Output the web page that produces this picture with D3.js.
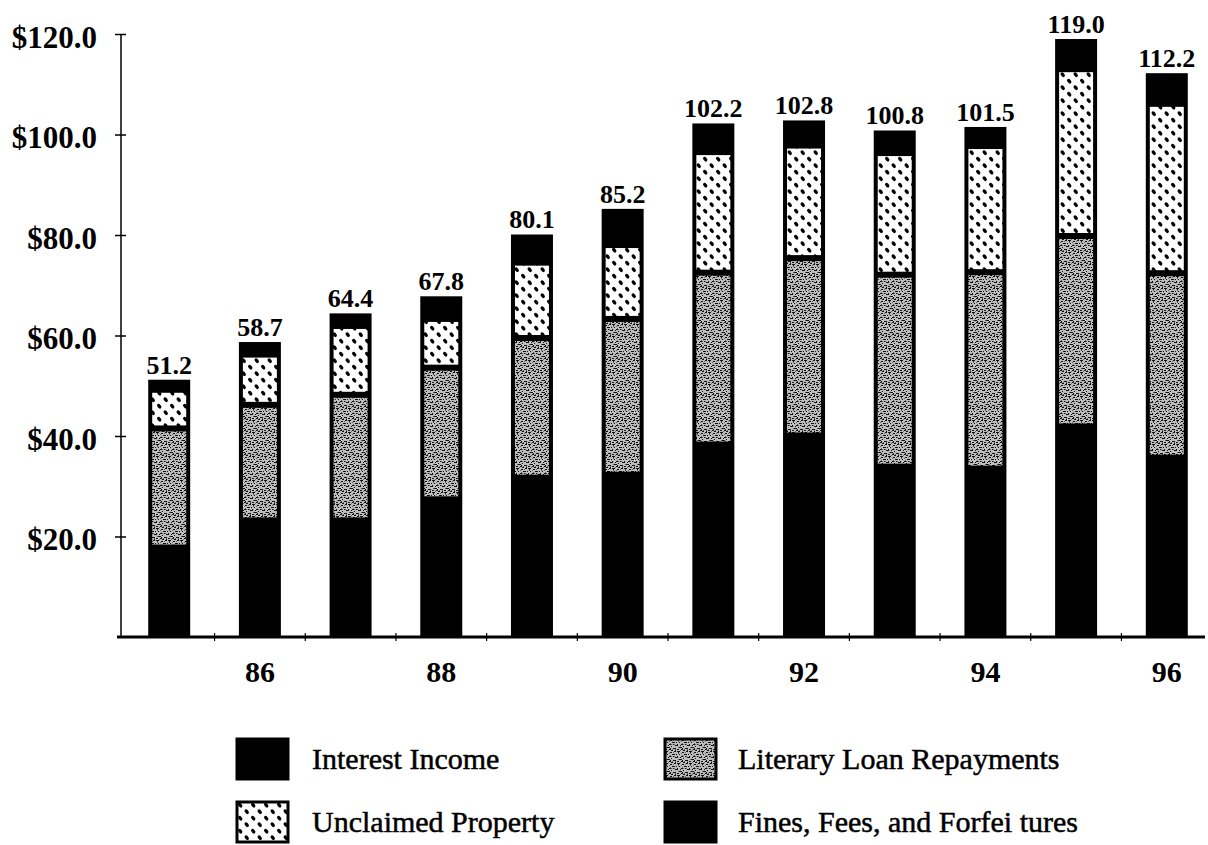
<!DOCTYPE html>
<html>
<head>
<meta charset="utf-8">
<script src="https://cdn.jsdelivr.net/npm/d3@7"></script>
<style>
  body { margin: 0; background: #fff; }
  text { font-family: "Liberation Serif", "Times New Roman", serif; fill: #000; }
</style>
</head>
<body>
<div id="chart"></div>
<script>
// datos (millones de dolares)
const years = [85, 86, 87, 88, 89, 90, 91, 92, 93, 94, 95, 96];
const interestIncome = [17.8, 23.2, 23.2, 27.4, 31.7, 32.3, 38.3, 40.1, 33.9, 33.5, 41.9, 35.7];
const literaryLoan = [23.7, 23.0, 25.0, 26.2, 27.8, 31.0, 34.2, 35.3, 38.2, 39.1, 37.9, 36.7];
const unclaimedProperty = [7.7, 10.0, 13.7, 9.7, 15.0, 14.7, 24.0, 22.4, 24.2, 25.1, 33.2, 33.7];
const finesFees = [2.0, 2.5, 2.5, 4.5, 5.6, 7.2, 5.7, 5.0, 4.5, 3.8, 6.0, 6.1];
const totalLabels = ['51.2', '58.7', '64.4', '67.8', '80.1', '85.2', '102.2', '102.8', '100.8', '101.5', '119.0', '112.2'];
const yTicks = [20, 40, 60, 80, 100, 120];
const xTickLabels = [86, 88, 90, 92, 94, 96];
const seriesKeys = ['interest', 'literary', 'unclaimed', 'fines'];
const seriesNames = ['Interest Income', 'Literary Loan Repayments', 'Unclaimed Property', 'Fines, Fees, and Forfei tures'];

const width = 1208;
const height = 845;

const svg = d3.select('#chart')
  .append('svg')
  .attr('width', width)
  .attr('height', height);

// patrones de relleno tipo fotocopia
const defs = svg.append('defs');

const pLit = defs.append('pattern')
  .attr('id', 'pat-literary')
  .attr('patternUnits', 'userSpaceOnUse')
  .attr('width', 12).attr('height', 12);
pLit.append('rect').attr('width', 12).attr('height', 12).attr('fill', '#bdbdbd');
[[0,0,3,1],[5,1,2,1],[9,0,2,1],[2,3,1,1],[7,3,3,1],[0,5,1,2],[4,5,3,1],[10,6,2,1],
 [2,8,3,1],[6,7,1,1],[8,9,3,1],[0,10,2,1],[4,10,2,1],[6,11,2,1],[11,3,1,1],[3,6,1,1],
 [1,1,1,1],[8,5,1,1],[5,9,1,1],[10,11,1,1]]
  .forEach(d => pLit.append('rect')
    .attr('x', d[0]).attr('y', d[1]).attr('width', d[2]).attr('height', d[3])
    .attr('fill', '#111'));
[[1,2],[8,1],[3,11],[10,10],[5,4],[9,5],[1,8],[7,10],[4,2],[6,5]]
  .forEach(d => pLit.append('rect')
    .attr('x', d[0]).attr('y', d[1]).attr('width', 1).attr('height', 1)
    .attr('fill', '#666'));

const pUnc = defs.append('pattern')
  .attr('id', 'pat-unclaimed')
  .attr('patternUnits', 'userSpaceOnUse')
  .attr('width', 13).attr('height', 13);
pUnc.append('rect').attr('width', 13).attr('height', 13).attr('fill', '#fff');
[[3.2, 3.2], [9.7, 9.7]].forEach(d => pUnc.append('ellipse')
  .attr('cx', d[0]).attr('cy', d[1]).attr('rx', 2.7).attr('ry', 1.7)
  .attr('transform', `rotate(50 ${d[0]} ${d[1]})`)
  .attr('fill', '#000'));

const fills = {
  interest: '#000',
  literary: 'url(#pat-literary)',
  unclaimed: 'url(#pat-unclaimed)',
  fines: '#000'
};

// tabla para d3.stack
const table = years.map((yr, i) => ({
  year: yr,
  interest: interestIncome[i],
  literary: literaryLoan[i],
  unclaimed: unclaimedProperty[i],
  fines: finesFees[i]
}));
const stacked = d3.stack().keys(seriesKeys)(table);

const axisLeftX = 121;

const x = d3.scaleBand()
  .domain(years)
  .range([axisLeftX, 1215])
  .paddingInner(0.537)
  .paddingOuter(0.3);

const y = d3.scaleLinear()
  .domain([0, 120])
  .range([637, 34]);

// barras: fondo negro con el contorno, y luego cada segmento
const bars = svg.append('g');
bars.selectAll('rect.outline')
  .data(table)
  .join('rect')
  .attr('class', 'outline')
  .attr('x', d => x(d.year))
  .attr('width', x.bandwidth())
  .attr('y', (d, i) => y(stacked[3][i][1]))
  .attr('height', (d, i) => y(0) - y(stacked[3][i][1]))
  .attr('fill', '#000');

const inset = 4;
bars.selectAll('g.layer')
  .data(stacked.filter(s => s.key === 'literary' || s.key === 'unclaimed'))
  .join('g')
  .attr('class', 'layer')
  .attr('fill', s => fills[s.key])
  .selectAll('rect')
  .data(s => s)
  .join('rect')
  .attr('x', d => x(d.data.year) + inset)
  .attr('width', x.bandwidth() - inset * 2)
  .attr('y', d => y(d[1]) + 3)
  .attr('height', d => y(d[0]) - y(d[1]) - 6);

// etiquetas de totales
svg.append('g')
  .selectAll('text')
  .data(table)
  .join('text')
  .attr('x', d => x(d.year) + x.bandwidth() / 2)
  .attr('y', (d, i) => y(stacked[3][i][1]) - 6)
  .attr('text-anchor', 'middle')
  .attr('font-size', '26px')
  .attr('font-weight', 'bold')
  .text((d, i) => totalLabels[i]);

// eje Y
function ejeY(g) {
  g.attr('transform', `translate(${axisLeftX},0)`)
    .call(d3.axisLeft(y)
      .tickValues(yTicks)
      .tickSize(6)
      .tickPadding(18)
      .tickFormat(d => '$' + d.toFixed(1)))
    .call(g => g.select('.domain').remove())
    .call(g => g.selectAll('.tick line').attr('x1', 5).attr('stroke-width', 1.5))
    .call(g => g.selectAll('.tick text')
      .attr('font-family', '"Liberation Serif", serif')
      .attr('font-size', '31px')
      .attr('font-weight', 'bold')
      .attr('dy', '0.42em')
      .attr('fill', '#000'));
  g.append('line')
    .attr('x1', 0).attr('x2', 0)
    .attr('y1', y(120)).attr('y2', y(0))
    .attr('stroke', '#000').attr('stroke-width', 1.5);
}

// eje X: solo los años pares llevan rótulo
function ejeX(g) {
  g.attr('transform', `translate(0,${y(0)})`)
    .call(d3.axisBottom(x)
      .tickValues(xTickLabels)
      .tickSize(0)
      .tickPadding(24))
    .call(g => g.select('.domain').remove())
    .call(g => g.selectAll('.tick text')
      .attr('font-family', '"Liberation Serif", serif')
      .attr('font-size', '30px')
      .attr('font-weight', 'bold')
      .attr('fill', '#000'));
  g.append('line')
    .attr('x1', axisLeftX - 4).attr('x2', 1205)
    .attr('y1', 0).attr('y2', 0)
    .attr('stroke', '#000').attr('stroke-width', 3);
  // marcas pequeñas entre barras
  g.selectAll('line.mid')
    .data(years.slice(0, -1))
    .join('line')
    .attr('class', 'mid')
    .attr('x1', (d, i) => (x(d) + x(years[i + 1]) + x.bandwidth()) / 2)
    .attr('x2', (d, i) => (x(d) + x(years[i + 1]) + x.bandwidth()) / 2)
    .attr('y1', -4).attr('y2', 4)
    .attr('stroke', '#000').attr('stroke-width', 1.2);
}

svg.append('g').call(ejeX);
svg.append('g').call(ejeY);

// leyenda
const legendPos = [
  { x: 237, y: 739 },
  { x: 665, y: 739 },
  { x: 237, y: 802 },
  { x: 665, y: 802 }
];
const legend = svg.append('g')
  .selectAll('g')
  .data(seriesKeys)
  .join('g')
  .attr('transform', (d, i) => `translate(${legendPos[i].x},${legendPos[i].y})`);

legend.append('rect')
  .attr('width', 51)
  .attr('height', 40)
  .attr('fill', d => fills[d])
  .attr('stroke', '#000')
  .attr('stroke-width', 3);

legend.append('text')
  .attr('x', (d, i) => i % 2 === 0 ? 75 : 73)
  .attr('y', 30)
  .attr('font-size', '30px')
  .attr('stroke', '#000')
  .attr('stroke-width', 0.5)
  .text((d, i) => seriesNames[i]);
</script>
</body>
</html>
